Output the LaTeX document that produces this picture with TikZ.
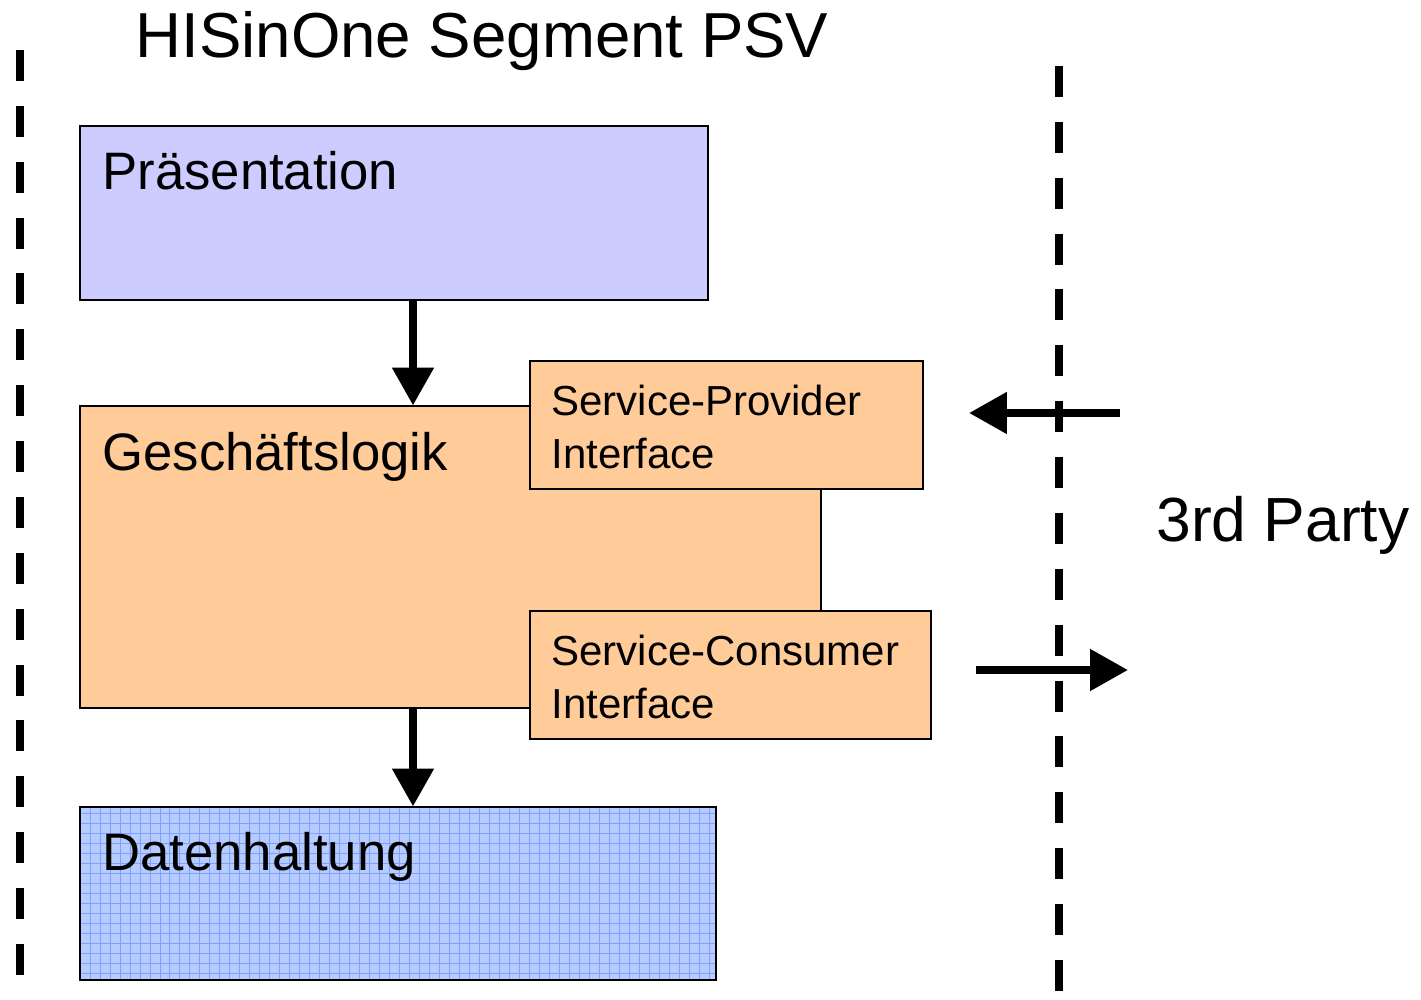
\documentclass[tikz,border=0pt]{standalone}
\usepackage{fontspec}
\setmainfont{Liberation Sans}
\usetikzlibrary{arrows.meta,fit}

\definecolor{praesblue}{HTML}{CCCCFF}
\definecolor{logikorange}{HTML}{FFCC99}
\definecolor{datenblue}{HTML}{B6CCFF}
\definecolor{gridblue}{HTML}{80A0FF}

\begin{document}
\begin{tikzpicture}[x=0.02cm, y=-0.02cm,
	layer/.style={draw=black, line width=0.6pt, inner sep=0pt},
	caption/.style={anchor=base west, inner sep=0pt, font=\fontsize{30}{36}\selectfont},
	small/.style={anchor=base west, inner sep=0pt, align=left, font=\fontsize{23.9}{30}\selectfont},
	flow/.style={line width=4.5pt, -{Triangle[length=21.5pt, width=22.7pt]}},
	border/.style={line width=4.5pt, dash pattern=on 17.6pt off 14.2pt}]

	\useasboundingbox (0,0) rectangle (1421,1000);

	% Titel und Grenzen
	\node[anchor=base, inner sep=0pt, font=\fontsize{36.2}{43}\selectfont] (title) at (482, 58) {HISinOne Segment PSV};
	\draw[border] (20, 50) -- (20, 990);
	\draw[border] (1059, 66) -- (1059, 995);
	\node[anchor=base west, inner sep=0pt, font=\fontsize{35.5}{43}\selectfont] (party) at (1156, 541) {3rd Party};

	% Schichten
	\node[layer, fill=praesblue, fit={(80,126) (708,300)}] (praes) {};
	\node[caption] (praestext) at (102, 190) {Präsentation};

	\node[layer, fill=logikorange, fit={(80,406) (821,708)}] (logik) {};
	\node[caption] (logiktext) at (102, 470) {Geschäftslogik};

	\node[layer, fill=logikorange, fit={(530,361) (923,489)}] (provider) {};
	\node[small] (providertext) at (551, 468) {Service-Provider\\Interface};

	\node[layer, fill=logikorange, fit={(530,611) (931,739)}] (consumer) {};
	\node[small] (consumertext) at (551, 718) {Service-Consumer\\Interface};

	\node[layer, fill=datenblue, fit={(80,807) (716,980)},
		path picture={\draw[gridblue, line width=0.55pt] (path picture bounding box.north west) grid[step=0.2cm] (path picture bounding box.south east);}] (daten) {};
	\node[caption] (datentext) at (102, 870) {Datenhaltung};

	% Pfeile
	\coordinate (axis) at (413, 0);
	\draw[flow] (praes.south -| axis) -- (logik.north -| axis);
	\draw[flow] (logik.south -| axis) -- (daten.north -| axis);

	\coordinate (inA) at (1120, 413);
	\coordinate (inB) at (969, 413);
	\coordinate (outA) at (976, 670);
	\coordinate (outB) at (1128, 670);
	\draw[flow] (inA) -- (inB);
	\draw[flow] (outA) -- (outB);

\end{tikzpicture}
\end{document}
